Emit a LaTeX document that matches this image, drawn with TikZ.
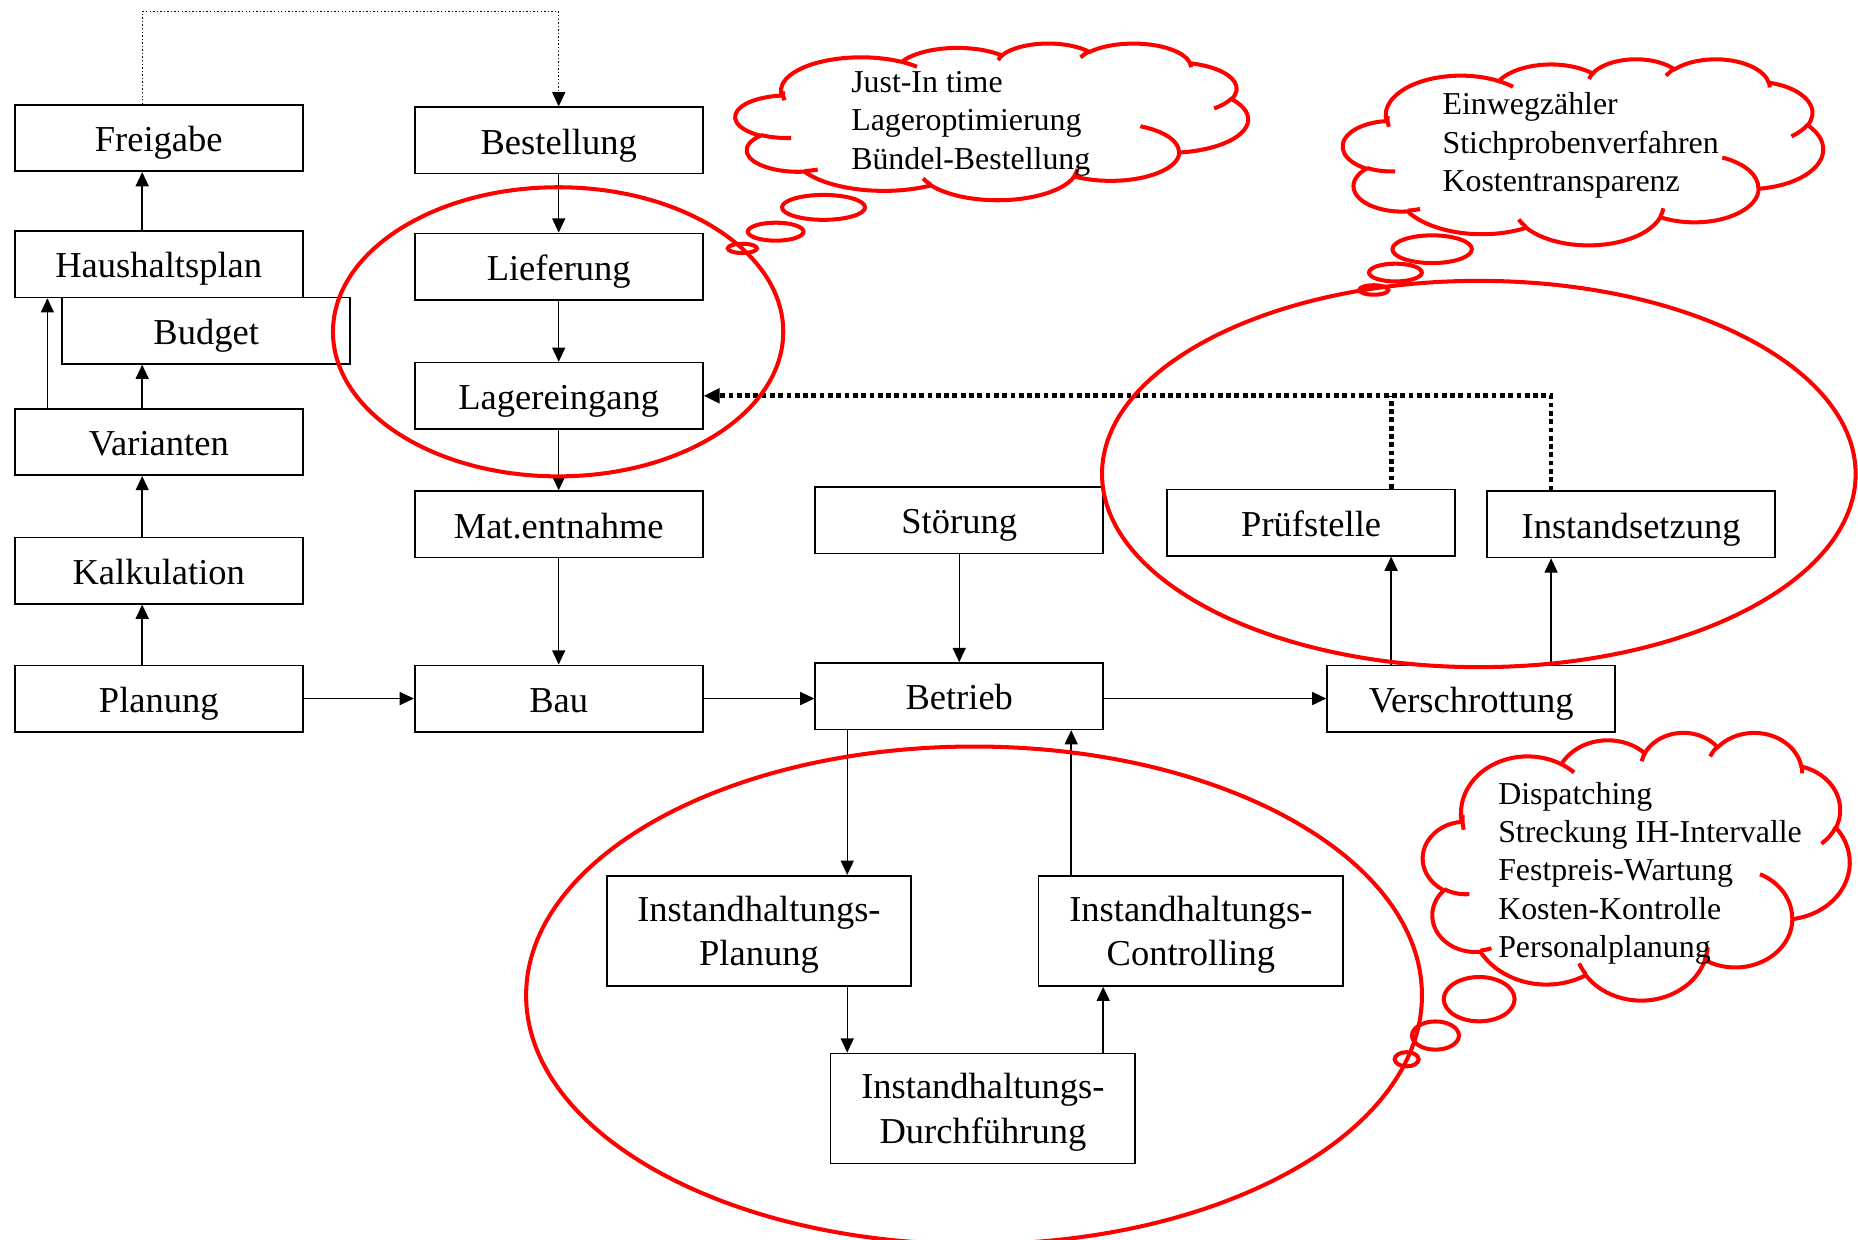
\documentclass[tikz,border=0pt]{standalone}
\usepackage{fontspec}
\setmainfont{Liberation Serif}
\usetikzlibrary{arrows.meta,calc}
\begin{document}
\begin{tikzpicture}[x=0.5pt,y=-0.5pt,
  box/.style={draw, line width=0.7pt, minimum width=121.5pt, minimum height=28pt, inner sep=0pt, align=center, text height=11.55pt, text depth=0pt, font=\fontsize{15.4}{18.85}\selectfont},
  bigbox/.style={draw, line width=0.7pt, minimum width=128.5pt, minimum height=46.5pt, inner sep=0pt, align=center, text depth=-1.6pt, font=\fontsize{15.4}{18.85}\selectfont},
  arr/.style={line width=0.6pt, -{Triangle[length=6pt,width=5.5pt]}},
  thindot/.style={line width=0.5pt, dash pattern=on 0.6pt off 0.9pt},
  thickdot/.style={line width=2pt, dash pattern=on 2pt off 1.5pt},
  redline/.style={draw=red, line width=1.7pt},
  ooarc/.style n args={4}{insert path={arc[x radius=#1, y radius=#2,
      start angle={atan2(#1*sin(#3),#2*cos(#3))},
      delta angle={mod(atan2(#1*sin(#3+#4),#2*cos(#3+#4))-atan2(#1*sin(#3),#2*cos(#3))+720,360)}]}},
  cloudtext/.style={anchor=base west, inner sep=0pt, font=\fontsize{13.45}{16.2}\selectfont}
]
\useasboundingbox (0,0) rectangle (1568,1046);
\clip (0,0) rectangle (1568,1046);

% boxes
\node[box] (frei)   at (134,116.5) {Freigabe};
\node[box] (best)   at (471.5,118.5) {Bestellung};
\node[box] (haus)   at (134,223) {Haushaltsplan};
\node[box] (budg)   at (174,279) {Budget};
\node[box] (lief)   at (471.5,225) {Lieferung};
\node[box] (lager)  at (471.5,334) {Lagereingang};
\node[box] (var)    at (134,373) {Varianten};
\node[box] (mat)    at (471.5,442.5) {Mat.entnahme};
\node[box] (stoer)  at (809.5,439) {Störung};
\node[box] (pruef)  at (1106.5,441) {Prüfstelle};
\node[box] (inst)   at (1376.5,442.5) {Instandsetzung};
\node[box] (kalk)   at (134,481.5) {Kalkulation};
\node[box] (plan)   at (134,589.5) {Planung};
\node[box] (bau)    at (471.5,589.5) {Bau};
\node[box] (betr)   at (809.5,587.5) {Betrieb};
\node[box] (versch) at (1241.5,589.5) {Verschrottung};
\node[bigbox] (ihp) at (640.5,785.5) {Instandhaltungs-\\Planung};
\node[bigbox] (ihc) at (1005,785.5) {Instandhaltungs-\\Controlling};
\node[bigbox] (ihd) at (829.5,935.5) {Instandhaltungs-\\Durchführung};

% connectors
\coordinate (topc) at (471.5,10);
\draw[thindot, -{Triangle[length=6pt,width=5.5pt]}] ([xshift=-7pt]frei.north) |- (topc) -- (best.north);
\draw[arr] ([xshift=-7pt]haus.north) -- ([xshift=-7pt]frei.south);
\draw[arr] ([xshift=-7pt]var.north) -- ([xshift=-7pt]var.north |- budg.south);
\draw[arr] ([xshift=-47pt]var.north) -- ([xshift=-47pt]var.north |- haus.south);
\draw[arr] ([xshift=-7pt]kalk.north) -- ([xshift=-7pt]var.south);
\draw[arr] ([xshift=-7pt]plan.north) -- ([xshift=-7pt]kalk.south);
\draw[arr] (plan.east) -- (bau.west);
\draw[arr] (best.south) -- (lief.north);
\draw[arr] (lief.south) -- (lager.north);
\draw[arr] (lager.south) -- (mat.north);
\draw[arr] (mat.south) -- (bau.north);
\draw[arr] (bau.east) -- (bau.east -| betr.west);
\draw[arr] (stoer.south) -- (betr.north);
\draw[arr] ([yshift=-1pt]betr.east) -- ([yshift=-1pt]betr.east -| versch.west);
\draw[arr] ([xshift=33.75pt]pruef.south |- versch.north) -- ([xshift=33.75pt]pruef.south);
\draw[arr] ([xshift=-33.75pt]inst.south |- versch.north) -- ([xshift=-33.75pt]inst.south);
\draw[arr] ([xshift=-47.25pt]betr.south) -- ([xshift=-47.25pt]betr.south |- ihp.north);
\draw[arr] ([xshift=37.25pt]ihp.south) -- ([xshift=37.25pt]ihp.south |- ihd.north);
\draw[arr] ([xshift=50.75pt]ihd.north) -- ([xshift=50.75pt]ihd.north |- ihc.south);
\draw[arr] ([xshift=-50.5pt]ihc.north) -- ([xshift=-50.5pt]ihc.north |- betr.south);
\draw[thickdot, -{Triangle[length=6.75pt,width=6pt]}] ([xshift=-33.75pt]inst.north) |- (lager.east);
\draw[thickdot] ([xshift=33.75pt]pruef.north) -- ([xshift=33.75pt]pruef.north |- lager.east);

% red ellipses
\draw[redline] (471,280) ellipse [x radius=95pt, y radius=61pt];
\draw[redline] (1248,400) ellipse [x radius=159pt, y radius=81.5pt];
\draw[redline] (822,840) ellipse [x radius=189pt, y radius=105pt];

% cloud outline (template 432 x 432, y downwards)
\def\cloudbody{%
  \draw[redline] (39.00,143.70)
    [ooarc={67.53}{91.90}{-190.4875}{123.7805}]
    [ooarc={53.33}{72.67}{-144.1024}{89.9452}]
    [ooarc={43.65}{59.45}{-145.8079}{99.7230}]
    [ooarc={48.57}{65.95}{-130.9861}{117.2417}]
    [ooarc={53.33}{72.73}{-78.7089}{109.0269}]
    [ooarc={67.75}{92.20}{-46.2673}{130.2690}]
    [ooarc={57.85}{78.67}{0.6250}{114.0333}]
    [ooarc={67.52}{92.15}{22.4516}{115.1726}]
    [ooarc={77.20}{105.43}{66.2426}{75.7110}]
    [ooarc={43.60}{59.18}{-274.9421}{146.7356}]
    [ooarc={43.45}{59.45}{-246.8285}{152.5189}] -- cycle;
  \draw[redline]
    (46.93,261.77) [ooarc={43.45}{59.45}{86.742}{26.4295}]
    (69.28,348.99) [ooarc={43.60}{59.18}{73.6105}{11.4475}]
    (164.78,390.90) [ooarc={67.52}{92.15}{137.6242}{14.0811}]
    (288.27,347.51) [ooarc={67.52}{92.15}{6.4533}{15.9984}]
    (341.29,229.54) [ooarc={57.85}{78.67}{-70.2924}{70.9174}]
    (417.98,153.54) [ooarc={53.33}{72.73}{30.3180}{27.7515}]
    (383.24,54.26) [ooarc={48.57}{65.95}{-13.7443}{14.8505}]
    (290.78,39.52) [ooarc={48.57}{65.95}{-149.1815}{18.1976}]
    (221.41,47.20) [ooarc={43.65}{59.45}{-163.4943}{17.6879}]
    (140.00,51.92) [ooarc={67.53}{91.90}{-66.7070}{12.3194}]
    (41.27,157.89) [ooarc={67.53}{91.90}{164.6647}{20.6203}];
}

% cloud 1
\begin{scope}[shift={(620.7,36.3)}, x=0.50058pt, y=-0.15301pt]
  \cloudbody
\end{scope}
\draw[redline] (695,175) ellipse [x radius=17.5pt, y radius=5.25pt];
\draw[redline] (654.6,195.5) ellipse [x radius=11.75pt, y radius=3.8pt];
\draw[redline] (626.5,209.6) ellipse [x radius=6.15pt, y radius=1.95pt];
\node[cloudtext] (t1) at (718,78) {\begin{tabular}[t]{@{}l@{}}Just-In time\\Lageroptimierung\\Bündel-Bestellung\end{tabular}};

% cloud 2
\begin{scope}[shift={(1133.4,49.5)}, x=0.46887pt, y=-0.18171pt]
  \cloudbody
\end{scope}
\draw[redline] (1208.6,210.3) ellipse [x radius=16.75pt, y radius=5.85pt];
\draw[redline] (1177.6,230) ellipse [x radius=11.15pt, y radius=3.75pt];
\draw[redline] (1159.4,244.7) ellipse [x radius=6.15pt, y radius=2pt];
\node[cloudtext] (t2) at (1217,97) {\begin{tabular}[t]{@{}l@{}}Einwegzähler\\Stichprobenverfahren\\Kostentransparenz\end{tabular}};

% cloud 3
\begin{scope}[shift={(1200.9,617.7)}, x=0.41667pt, y=-0.26146pt]
  \cloudbody
\end{scope}
\draw[redline] (1248.3,843.2) ellipse [x radius=14.95pt, y radius=9.35pt];
\draw[redline] (1211.4,873.9) ellipse [x radius=9.9pt, y radius=5.95pt];
\draw[redline] (1187.1,893.9) ellipse [x radius=5.05pt, y radius=3pt];
\node[cloudtext] (t3) at (1264,678.5) {\begin{tabular}[t]{@{}l@{}}Dispatching\\Streckung IH-Intervalle\\Festpreis-Wartung\\Kosten-Kontrolle\\Personalplanung\end{tabular}};
\end{tikzpicture}
\end{document}
